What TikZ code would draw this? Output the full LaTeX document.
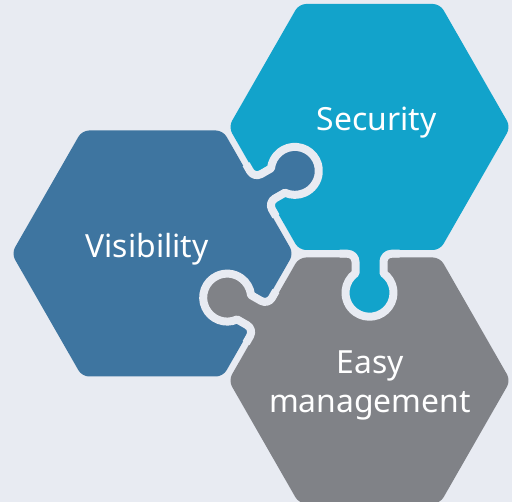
\documentclass[tikz,border=0pt]{standalone}
\usepackage{fontspec}
\setmainfont{Noto Sans}
\definecolor{PageBg}{HTML}{E8EBF2}
\definecolor{VisBlue}{HTML}{3E75A0}
\definecolor{SecBlue}{HTML}{12A3CB}
\definecolor{EasyGrey}{HTML}{808287}
\tikzset{
    piece text/.style={text=white, font=\fontsize{16}{19.5}\selectfont},
    seam line/.style={draw=PageBg, line width=4bp, line join=round},
}
\newcommand\HexPiece[3]{%
    \begin{scope}[shift={(#1)}]
        \fill[#3, rounded corners=3.5bp] (-141,0) -- (-70.5,#2) -- (70.5,#2)
            -- (141,0) -- (70.5,-#2) -- (-70.5,-#2) -- cycle;
    \end{scope}
}
\newcommand\PuzzleTab[3]{%
    \begin{scope}[shift={(#1)}, rotate=#2-90]
        \fill[#3] (-24,-6) -- (-24,0) -- (-22,0) arc[start angle=-90, end angle=0, radius=8]
            -- (-14,19.5) arc[start angle=234.3, end angle=-54.3, radius=24]
            -- (14,8) arc[start angle=180, end angle=270, radius=8] -- (24,0) -- (24,-6) -- cycle;
        \draw[seam line] (-30,0) -- (-22,0) arc[start angle=-90, end angle=0, radius=8]
            -- (-14,19.5) arc[start angle=234.3, end angle=-54.3, radius=24]
            -- (14,8) arc[start angle=180, end angle=270, radius=8] -- (30,0);
    \end{scope}
}
\begin{document}
\begin{tikzpicture}[x=0.5bp, y=0.5bp]
    \fill[PageBg] (0,0) rectangle (512,502);
    \useasboundingbox (0,0) rectangle (512,502);
    \coordinate (VisC) at (152.5,248.5);
    \coordinate (SecC) at (369.5,375);
    \coordinate (EasyC) at (369.5,121.5);
    \HexPiece{VisC}{123}{VisBlue}
    \HexPiece{SecC}{123}{SecBlue}
    \HexPiece{EasyC}{123}{EasyGrey}
    % tabs
    \PuzzleTab{261,311.75}{29.8}{VisBlue}
    \PuzzleTab{261,185}{150.2}{EasyGrey}
    \PuzzleTab{369.5,248.25}{270}{SecBlue}
    % labels
    \node[piece text, anchor=base] (SecText) at (376.5,371) {Security};
    \node[piece text, anchor=base] (VisText) at (147,244.3) {Visibility};
    \node[piece text, align=center] (EasyText) at (370,116.5) {Easy\\management};
\end{tikzpicture}
\end{document}
